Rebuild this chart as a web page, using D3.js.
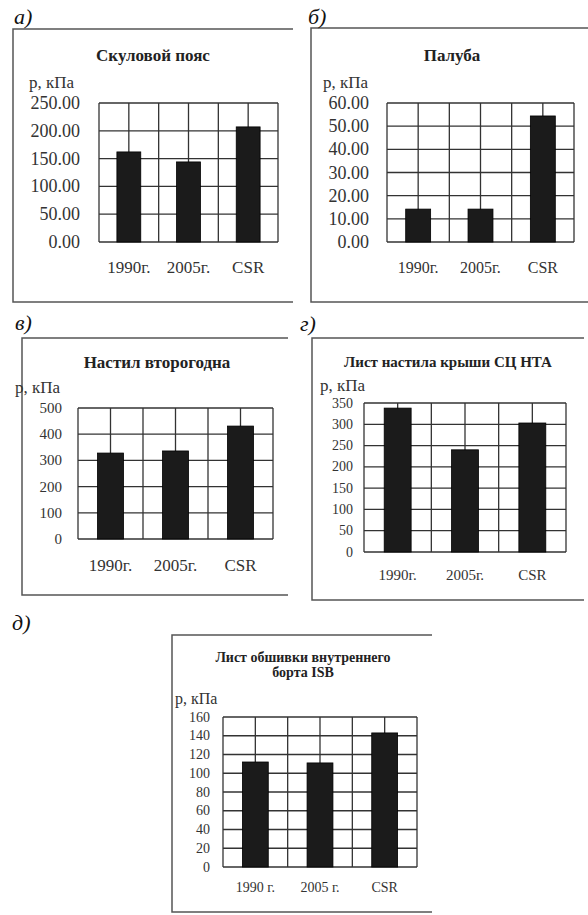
<!DOCTYPE html>
<html lang="ru">
<head>
<meta charset="utf-8">
<script src="https://cdn.jsdelivr.net/npm/d3@7"></script>
<style>
  html, body { margin: 0; padding: 0; background: #fff; }
  svg text { font-family: "Liberation Serif", "DejaVu Serif", serif; }
  .grid line { stroke: #333; stroke-width: 1.3; }
  .frame { fill: none; stroke: #555; stroke-width: 1.5; }
  .bar { fill: #1b1b1b; stroke: #000; stroke-width: 0.8; }
  .tick-lbl, .cat-lbl, .unit { fill: #333; }
  .title { fill: #222; font-weight: bold; }
  .plabel { font-style: italic; fill: #111; }
</style>
</head>
<body>
<svg id="chart" width="588" height="915"></svg>
<script>
// --- data ---
const categories = ['1990г.', '2005г.', 'CSR'];
const categoriesIsb = ['1990 г.', '2005 г.', 'CSR'];
const bilgeValues = [162, 144, 207];      // а) Скуловой пояс
const deckValues = [14.2, 14.2, 54.4];    // б) Палуба
const innerBottomValues = [328, 336, 431]; // в) Настил второго дна
const hopperValues = [338, 240, 303];     // г) Лист настила крыши СЦ НТА
const isbValues = [112, 111, 143];        // д) Лист обшивки внутреннего борта ISB
const yMaxes = [250, 60, 500, 350, 160];
const yStepSizes = [50, 10, 100, 50, 20];
const titles = [['Скуловой пояс'], ['Палуба'], ['Настил второгодна'], ['Лист настила крыши СЦ НТА'], ['Лист обшивки внутреннего', 'борта ISB']];
const panelLetters = ['а)', 'б)', 'в)', 'г)', 'д)'];
const unitLabel = 'р, кПа';

// --- layout (pixels) ---
const panels = [
  { cats: categories, vals: bilgeValues, dec: 2,
    frame: [13, 29, 293, 302], plot: [99, 103, 278, 242], letter: [14, 16],
    title: [153, 55, 17], unit: [29, 82, 17], tickX: 80, tickFs: 18, catY: 267, catFs: 17 },
  { cats: categories, vals: deckValues, dec: 2,
    frame: [311, 28, 588, 302], plot: [387, 103, 574, 242], letter: [308, 16],
    title: [452, 55, 17], unit: [323, 82, 17], tickX: 369, tickFs: 18, catY: 267, catFs: 16 },
  { cats: categories, vals: innerBottomValues, dec: 0,
    frame: [22, 338, 288, 595], plot: [78, 408, 273, 539], letter: [15, 322],
    title: [157, 362, 17], unit: [15, 387, 17], tickX: 62, tickFs: 15, catY: 565, catFs: 17 },
  { cats: categories, vals: hopperValues, dec: 0,
    frame: [312, 338, 584, 600], plot: [364, 403, 566, 552], letter: [300, 323],
    title: [448, 362, 15], unit: [320, 385, 17], tickX: 353, tickFs: 14, catY: 575, catFs: 15 },
  { cats: categoriesIsb, vals: isbValues, dec: 0,
    frame: [172, 635, 432, 912], plot: [223, 717, 417, 867], letter: [12, 622],
    title: [303, 657, 14], unit: [175, 698, 16], tickX: 210, tickFs: 14, catY: 887, catFs: 14 }
];

const svg = d3.select('#chart');

panels.forEach((p, i) => {
  const g = svg.append('g');
  const [fx0, fy0, fx1, fy1] = p.frame;
  const [l, t, r, b] = p.plot;

  // frame (right side cropped in source)
  g.append('path').attr('class', 'frame')
    .attr('d', `M${fx1},${fy0}H${fx0}V${fy1}H${fx1}`);

  g.append('text').attr('class', 'plabel')
    .attr('x', p.letter[0]).attr('y', p.letter[1])
    .attr('dominant-baseline', 'central')
    .attr('font-size', 22).text(panelLetters[i]);

  titles[i].forEach((s, k) => {
    g.append('text').attr('class', 'title')
      .attr('x', p.title[0]).attr('y', p.title[1] + k * (p.title[2] + 1))
      .attr('text-anchor', 'middle').attr('dominant-baseline', 'central')
      .attr('font-size', p.title[2]).text(s);
  });

  g.append('text').attr('class', 'unit')
    .attr('x', p.unit[0]).attr('y', p.unit[1])
    .attr('dominant-baseline', 'central')
    .attr('font-size', p.unit[2]).text(unitLabel);

  const x = d3.scaleBand().domain(p.cats).range([l, r]).paddingInner(0.6).paddingOuter(0.3);
  const y = d3.scaleLinear().domain([0, yMaxes[i]]).range([b, t]);
  const step = x.step();
  const ticks = d3.range(0, yMaxes[i] + 1e-9, yStepSizes[i]);

  // gridlines: horizontal at ticks, vertical at category edges and centres
  const grid = g.append('g').attr('class', 'grid');
  grid.selectAll('.h').data(ticks).join('line')
    .attr('x1', l).attr('x2', r).attr('y1', d => y(d)).attr('y2', d => y(d));
  const vx = [];
  p.cats.forEach(c => {
    const cx = x(c) + x.bandwidth() / 2;
    vx.push(cx - step / 2, cx);
  });
  vx.push(r);
  grid.selectAll('.v').data(vx).join('line')
    .attr('x1', d => d).attr('x2', d => d).attr('y1', t).attr('y2', b);

  g.selectAll('.bar').data(p.vals).join('rect').attr('class', 'bar')
    .attr('x', (d, k) => x(p.cats[k]))
    .attr('width', x.bandwidth())
    .attr('y', d => y(d))
    .attr('height', d => b - y(d));

  g.selectAll('.tick-lbl').data(ticks).join('text').attr('class', 'tick-lbl')
    .attr('x', p.tickX).attr('y', d => y(d))
    .attr('text-anchor', 'end').attr('dominant-baseline', 'central')
    .attr('font-size', p.tickFs)
    .text(d => d.toFixed(p.dec));

  g.selectAll('.cat-lbl').data(p.cats).join('text').attr('class', 'cat-lbl')
    .attr('x', d => x(d) + x.bandwidth() / 2).attr('y', p.catY)
    .attr('text-anchor', 'middle').attr('dominant-baseline', 'central')
    .attr('font-size', p.catFs).text(d => d);
});
</script>
</body>
</html>
